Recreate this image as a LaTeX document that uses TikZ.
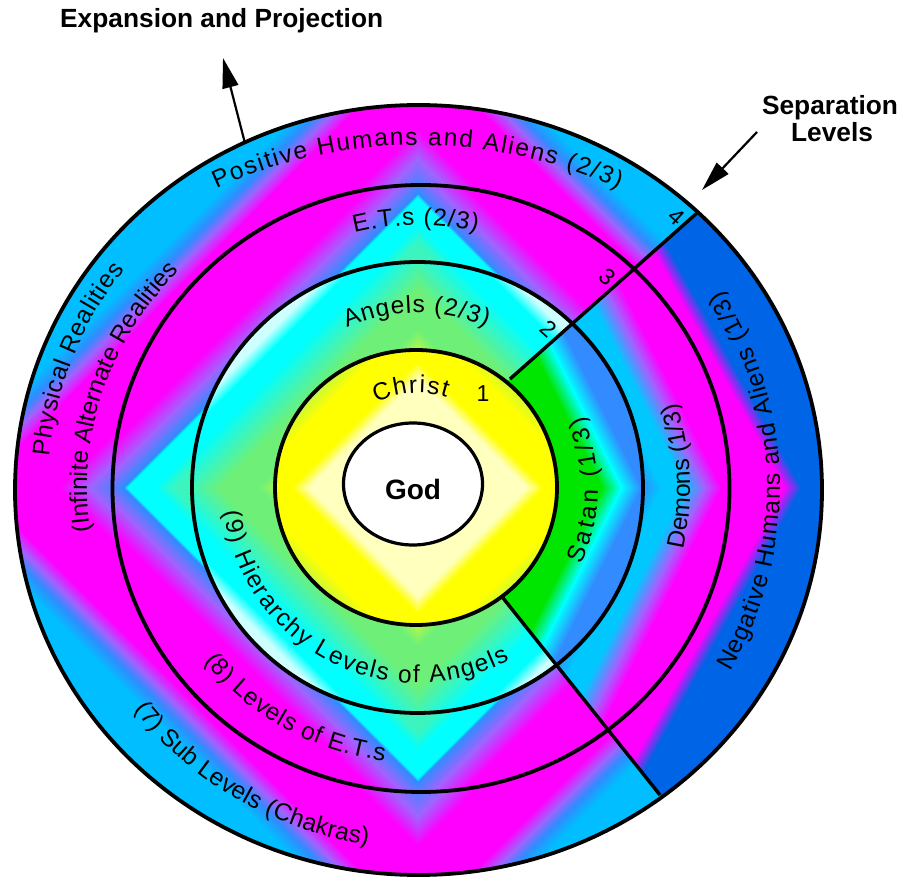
\documentclass[tikz,border=0pt]{standalone}
\usepackage{fontspec}
\setmainfont{Liberation Sans}
\usetikzlibrary{calc,decorations.text,arrows.meta}

\definecolor{cW}{RGB}{255,255,255}
\definecolor{cLY}{RGB}{255,255,190}
\definecolor{cY}{RGB}{255,255,0}
\definecolor{cYG}{RGB}{200,250,60}
\definecolor{cG}{RGB}{110,240,120}
\definecolor{cGC}{RGB}{60,245,190}
\definecolor{cC}{RGB}{0,255,255}
\definecolor{cWC}{RGB}{205,255,255}
\definecolor{cB}{RGB}{50,140,255}
\definecolor{cV}{RGB}{160,100,255}
\definecolor{cM}{RGB}{255,0,255}
\definecolor{cSK}{RGB}{0,190,255}
\definecolor{cPG}{RGB}{0,230,0}
\definecolor{cLB}{RGB}{0,200,255}
\definecolor{cDB}{RGB}{0,100,230}

\newcommand\rfont{\fontsize{24.5}{24.5}\selectfont}

% diamond gradient: [vertical stretch]{outerDist/innerDist/outerColor/innerColor, ...}
\newcommand\dfill[2][1]{%
  \foreach \dA/\dB/\cA/\cB in {#2}{%
    \pgfmathtruncatemacro\dN{max(1,round((\dA-\dB)/2.5))}%
    \foreach \dI in {0,...,\dN}{%
      \pgfmathsetmacro\dD{\dA-(\dA-\dB)*(\dI/\dN)}%
      \pgfmathtruncatemacro\dP{round(100*(\dI/\dN))}%
      \colorlet{dcol}{\cB!\dP!\cA}%
      \fill[dcol] (418-\dD,396) -- (418,396+#1*\dD) -- (418+\dD,396) -- (418,396-#1*\dD) -- cycle;
    }%
  }%
}

\tikzset{
  ringline/.style={draw=black, line width=3.8pt},
  sepline/.style={draw=black, line width=3.4pt},
  arr/.style={draw=black, line width=2.2pt, -{Triangle[length=30pt,width=16pt]}},
  num/.style={font=\fontsize{23}{23}\selectfont, inner sep=0pt},
  boldlbl/.style={font=\fontsize{26.3}{27}\selectfont\bfseries, inner sep=0pt},
  curvetext/.style={decorate, decoration={text along path, text align={fit to path}, text={|\rfont|#1}}},
  wedgepath/.style={insert path={(s1) -- ($(s1)!1.8!(s4)$) -- (960,950) -- (960,-60) -- ($(q1)!1.8!(q4)$) -- (q1) -- (C) -- cycle}}
}

\begin{document}
\begin{tikzpicture}[x=1pt,y=1pt]
\fill[white] (0,0) rectangle (904,884);
\useasboundingbox (0,0) rectangle (904,884);

\coordinate (C) at (418,396);
\coordinate (s1) at (510,505);
\coordinate (s4) at (697,671);
\coordinate (q1) at (503,286);
\coordinate (q4) at (660,89);

% ---- colour fills ----
\begin{scope}
  \clip (418.5,394) ellipse [x radius=403.5pt, y radius=385pt];
  \dfill{570/495/cSK/cSK, 495/475/cSK/cB, 475/460/cB/cV, 460/440/cV/cM, 440/360/cM/cM, 360/330/cM/cV, 330/298/cV/cB}
\end{scope}
\begin{scope}
  \clip (418.5,394) ellipse [x radius=403.5pt, y radius=385pt];
  \clip[wedgepath];
  \dfill[1.8]{640/385/cDB/cDB, 385/368/cDB/cM, 368/298/cM/cM}
\end{scope}
\begin{scope}
  \clip (421,395.5) ellipse [x radius=308.5pt, y radius=303.5pt];
  \dfill{440/350/cM/cM, 350/320/cM/cV, 320/296/cV/cB, 296/291/cB/cC, 291/265/cC/cC, 265/245/cC/cGC, 245/218/cGC/cGC}
\end{scope}
\begin{scope}
  \clip (421,395.5) ellipse [x radius=308.5pt, y radius=303.5pt];
  \clip[wedgepath];
  \dfill[2]{520/305/cM/cM, 305/288/cM/cV, 288/268/cV/cLB, 268/245/cLB/cLB, 245/225/cLB/cB, 225/200/cB/cB}
\end{scope}
\begin{scope}
  \clip (417.5,396.5) circle [radius=225.5pt];
  \dfill{320/305/cWC/cWC, 305/285/cWC/cC, 285/260/cC/cC, 260/230/cC/cGC, 230/200/cGC/cG, 200/160/cG/cG, 160/133/cG/cYG}
\end{scope}
\begin{scope}
  \clip (417.5,396.5) circle [radius=225.5pt];
  \clip[wedgepath];
  \dfill[2]{360/225/cB/cB, 225/205/cB/cC, 205/185/cC/cPG, 185/100/cPG/cPG}
\end{scope}
\begin{scope}
  \clip (416,396.5) ellipse [x radius=141pt, y radius=137.5pt];
  \dfill{200/175/cYG/cY, 175/128/cY/cY, 128/110/cY/cLY, 110/60/cLY/cLY, 60/0/cLY/cW}
\end{scope}
\fill[white] (413,400) ellipse [x radius=69.5pt, y radius=61pt];

% ---- outlines ----
\draw[ringline] (418.5,394) ellipse [x radius=403.5pt, y radius=385pt];
\draw[ringline] (421,395.5) ellipse [x radius=308.5pt, y radius=303.5pt];
\draw[ringline] (417.5,396.5) circle [radius=225.5pt];
\draw[ringline] (416,396.5) ellipse [x radius=141pt, y radius=137.5pt];
\draw[ringline, line width=3.2pt] (413,400) ellipse [x radius=69.5pt, y radius=61pt];

\draw[sepline] (s1) -- (s4);
\draw[sepline] (q1) -- (q4);

% ---- curved labels ----
\path[curvetext={Positive Humans and Aliens (2/3)}, shift={(417,257)}] (114.6:482pt) arc[start angle=114.6, end angle=65.3, radius=482pt];
\path[curvetext={E.T.s (2/3)}, shift={(418,396)}] (104:263pt) arc[start angle=104, end angle=77, radius=263pt];
\path[curvetext={Angels (2/3)}, shift={(418,396)}] (114:175pt) arc[start angle=114, end angle=67, radius=175pt];
\path[curvetext={Christ}, shift={(418,396)}] (116:95pt) arc[start angle=116, end angle=72.5, radius=95pt];
\path[curvetext={Satan (1/3)}, shift={(418,396)}] (-25:180pt) arc[start angle=-25, end angle=23.5, radius=180pt];
\path[curvetext={Demons (1/3)}, shift={(418,396)}] (-13:272pt) arc[start angle=-13, end angle=17.5, radius=272pt];
\path[curvetext={Negative Humans and Aliens (1/3)}, shift={(418,396)}] (-30.5:362pt) arc[start angle=-30.5, end angle=33, radius=362pt];
\path[curvetext={Physical Realities}, shift={(418,396)}] (175:370pt and 359pt) arc[start angle=175, end angle=142.5, x radius=370pt, y radius=359pt];
\path[curvetext={(Infinite Alternate Realities)}, shift={(418,396)}] (188:331pt and 313pt) arc[start angle=188, end angle=136, x radius=331pt, y radius=313pt];
\path[curvetext={(9) Hierarchy Levels of Angels}, shift={(418,396)}] (187:195pt) arc[start angle=187, end angle=298, radius=195pt];
\path[curvetext={(8) Levels of E.T.s}, shift={(418,396)}] (219:275pt) arc[start angle=219, end angle=263, radius=275pt];
\path[curvetext={(7) Sub Levels (Chakras)}, shift={(418,396)}] (218:360pt) arc[start angle=218, end angle=262, radius=360pt];

% ---- straight labels ----
\node[font=\fontsize{28}{28}\selectfont\bfseries, anchor=base, inner sep=0pt] (god) at (413,384) {God};
\node[num, anchor=base] (one) at (483,482) {1};
\node[num, rotate=-42] (two) at (549,555) {2};
\node[num, rotate=-42] (three) at (608,607) {3};
\node[num, rotate=-42] (four) at (677,667) {4};

\node[boldlbl, anchor=base west] (title) at (60,856) {Expansion and Projection};
\node[boldlbl, anchor=base] (sep1) at (830,769) {Separation};
\node[boldlbl, anchor=base] (sep2) at (832,742) {Levels};

% ---- arrows ----
\coordinate (expS) at ($(418.5,394)+(115.5:403.5pt and 385pt)$);
\coordinate (expT) at (223,826);
\draw[arr] (expS) -- (expT);
\coordinate (sepS) at (757,752);
\coordinate (sepT) at (702,694);
\draw[arr] (sepS) -- (sepT);
\end{tikzpicture}
\end{document}
